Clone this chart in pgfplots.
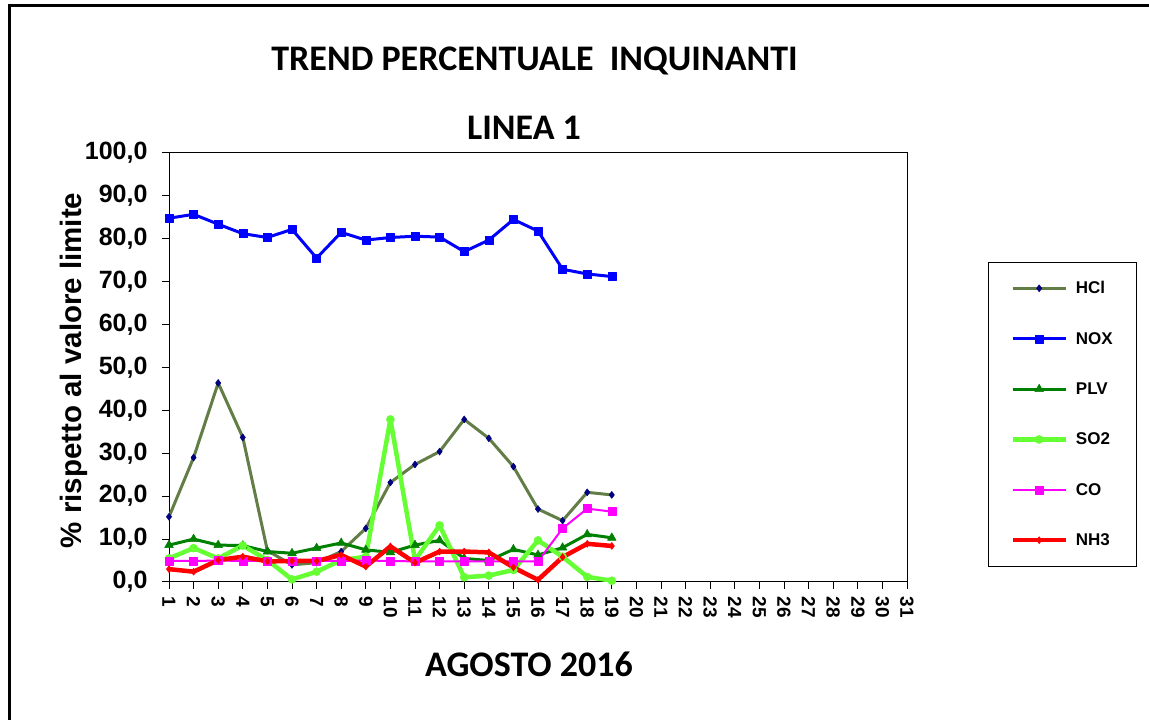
\documentclass[border=0pt]{standalone}
\usepackage{fontspec}
\setmainfont{Liberation Sans}
\newfontfamily\carlito{Carlito}
\usepackage{pgfplots}
\usepackage{pgfplotstable}
\pgfplotsset{compat=1.18}
\definecolor{hclline}{RGB}{98,125,70}
\definecolor{hclmark}{RGB}{0,0,128}
\definecolor{noxc}{RGB}{0,0,255}
\definecolor{plvc}{RGB}{0,128,0}
\definecolor{so2c}{RGB}{102,255,51}
\definecolor{coc}{RGB}{255,0,255}
\definecolor{nh3c}{RGB}{255,0,0}
\pgfplotstableread{
day HCl NOX PLV SO2 CO NH3
1 15.2 84.8 8.6 5.5 4.9 3.0
2 29.0 85.7 10.0 7.9 4.9 2.4
3 46.4 83.4 8.6 5.5 5.0 5.1
4 33.7 81.2 8.5 8.5 4.9 5.9
5 7.3 80.3 7.1 5.1 4.9 4.8
6 4.0 82.2 6.7 0.6 4.9 4.9
7 4.5 75.5 7.9 2.4 4.9 4.9
8 7.1 81.5 9.1 5.1 4.9 6.3
9 12.5 79.7 7.5 5.9 5.0 3.6
10 23.2 80.3 6.9 37.9 4.9 8.3
11 27.4 80.6 8.6 5.1 4.8 4.5
12 30.4 80.4 9.7 13.2 4.8 7.1
13 37.9 77.0 5.5 1.1 4.8 7.1
14 33.5 79.7 5.0 1.5 4.8 6.9
15 26.9 84.5 7.6 2.8 4.8 3.4
16 17.0 81.8 6.3 9.7 4.8 0.5
17 14.3 72.9 8.0 5.9 12.5 5.8
18 20.9 71.8 11.1 1.2 17.1 8.9
19 20.3 71.2 10.3 0.3 16.4 8.4
}\datatab
\begin{document}
\begin{tikzpicture}
\path[use as bounding box] (0pt,0pt) rectangle (1149pt,720pt);
\draw[line width=3pt] (9pt,-20pt) -- (9pt,714pt) -- (1170pt,714pt);
\node[anchor=base, font=\carlito\bfseries\fontsize{36}{36}\selectfont] at (534.5pt,649pt) {TREND PERCENTUALE\ \ INQUINANTI};
\node[anchor=base, font=\carlito\bfseries\fontsize{36}{36}\selectfont] at (524pt,580pt) {LINEA 1};
\node[anchor=base, font=\carlito\bfseries\fontsize{36}{36}\selectfont] at (529pt,43pt) {AGOSTO 2016};
\node[anchor=base, rotate=90, font=\bfseries\fontsize{29.5}{29.5}\selectfont] at (81.7pt,349.5pt) {\% rispetto al valore limite};
\begin{axis}[
  at={(169pt,138pt)}, anchor=south west, scale only axis,
  width=738pt, height=429pt,
  xmin=1, xmax=31, ymin=0, ymax=100,
  xtick={1,...,31}, ytick={0,10,...,100},
  tick align=outside, xtick pos=lower, ytick pos=left,
  major tick length=7pt,
  every tick/.style={black, line width=1pt},
  axis line style={black, line width=1pt},
  yticklabel={\pgfmathprintnumber[fixed,fixed zerofill,precision=1,use comma,assume math mode=true]{\tick}},
  yticklabel style={font=\bfseries\fontsize{25}{25}\selectfont, xshift=-11pt},
  xticklabel={\pgfmathprintnumber[assume math mode=true]{\tick}},
  xticklabel style={rotate=-90, anchor=west, xshift=0pt, yshift=0pt, font=\bfseries\fontsize{19}{19}\selectfont},
  xticklabel shift=4pt,
  legend style={at={(1.1098,0.7459)}, anchor=north west, draw=black, line width=0.8pt,
    fill=white, font=\bfseries\fontsize{17}{17}\selectfont, row sep=33pt, column sep=6pt,
    inner xsep=22pt, inner ysep=17pt, cells={anchor=west}},
  legend image code/.code={\draw[mark repeat=2,mark phase=2,#1] plot coordinates {(0pt,0pt) (26.5pt,0pt) (53pt,0pt)};},
  every axis plot/.append style={line join=round},
]
\addplot[hclline, line width=3pt, mark=diamond*, mark size=3.5pt, mark options={fill=hclmark, draw=hclmark, line width=0.5pt}] table[x=day,y=HCl] {\datatab};
\addlegendentry{\makebox[36pt][l]{HCl}}
\addplot[noxc, line width=3pt, mark=square*, mark size=4pt, mark options={fill=noxc, line width=0.5pt}] table[x=day,y=NOX] {\datatab};
\addlegendentry{\makebox[36pt][l]{NOX}}
\addplot[plvc, line width=3pt, mark=triangle*, mark size=5pt, mark options={fill=plvc, line width=0.5pt}] table[x=day,y=PLV] {\datatab};
\addlegendentry{\makebox[36pt][l]{PLV}}
\addplot[so2c, line width=4.5pt, mark=*, mark size=4pt, mark options={fill=so2c, line width=0.5pt}] table[x=day,y=SO2] {\datatab};
\addlegendentry{\makebox[36pt][l]{SO2}}
\addplot[coc, line width=2pt, mark=square*, mark size=4pt, mark options={fill=coc, line width=0.5pt}] table[x=day,y=CO] {\datatab};
\addlegendentry{\makebox[36pt][l]{CO}}
\addplot[nh3c, line width=4.5pt, mark=diamond*, mark size=3.5pt, mark options={fill=nh3c, line width=0.5pt}] table[x=day,y=NH3] {\datatab};
\addlegendentry{\makebox[36pt][l]{NH3}}
\end{axis}
\end{tikzpicture}
\end{document}
